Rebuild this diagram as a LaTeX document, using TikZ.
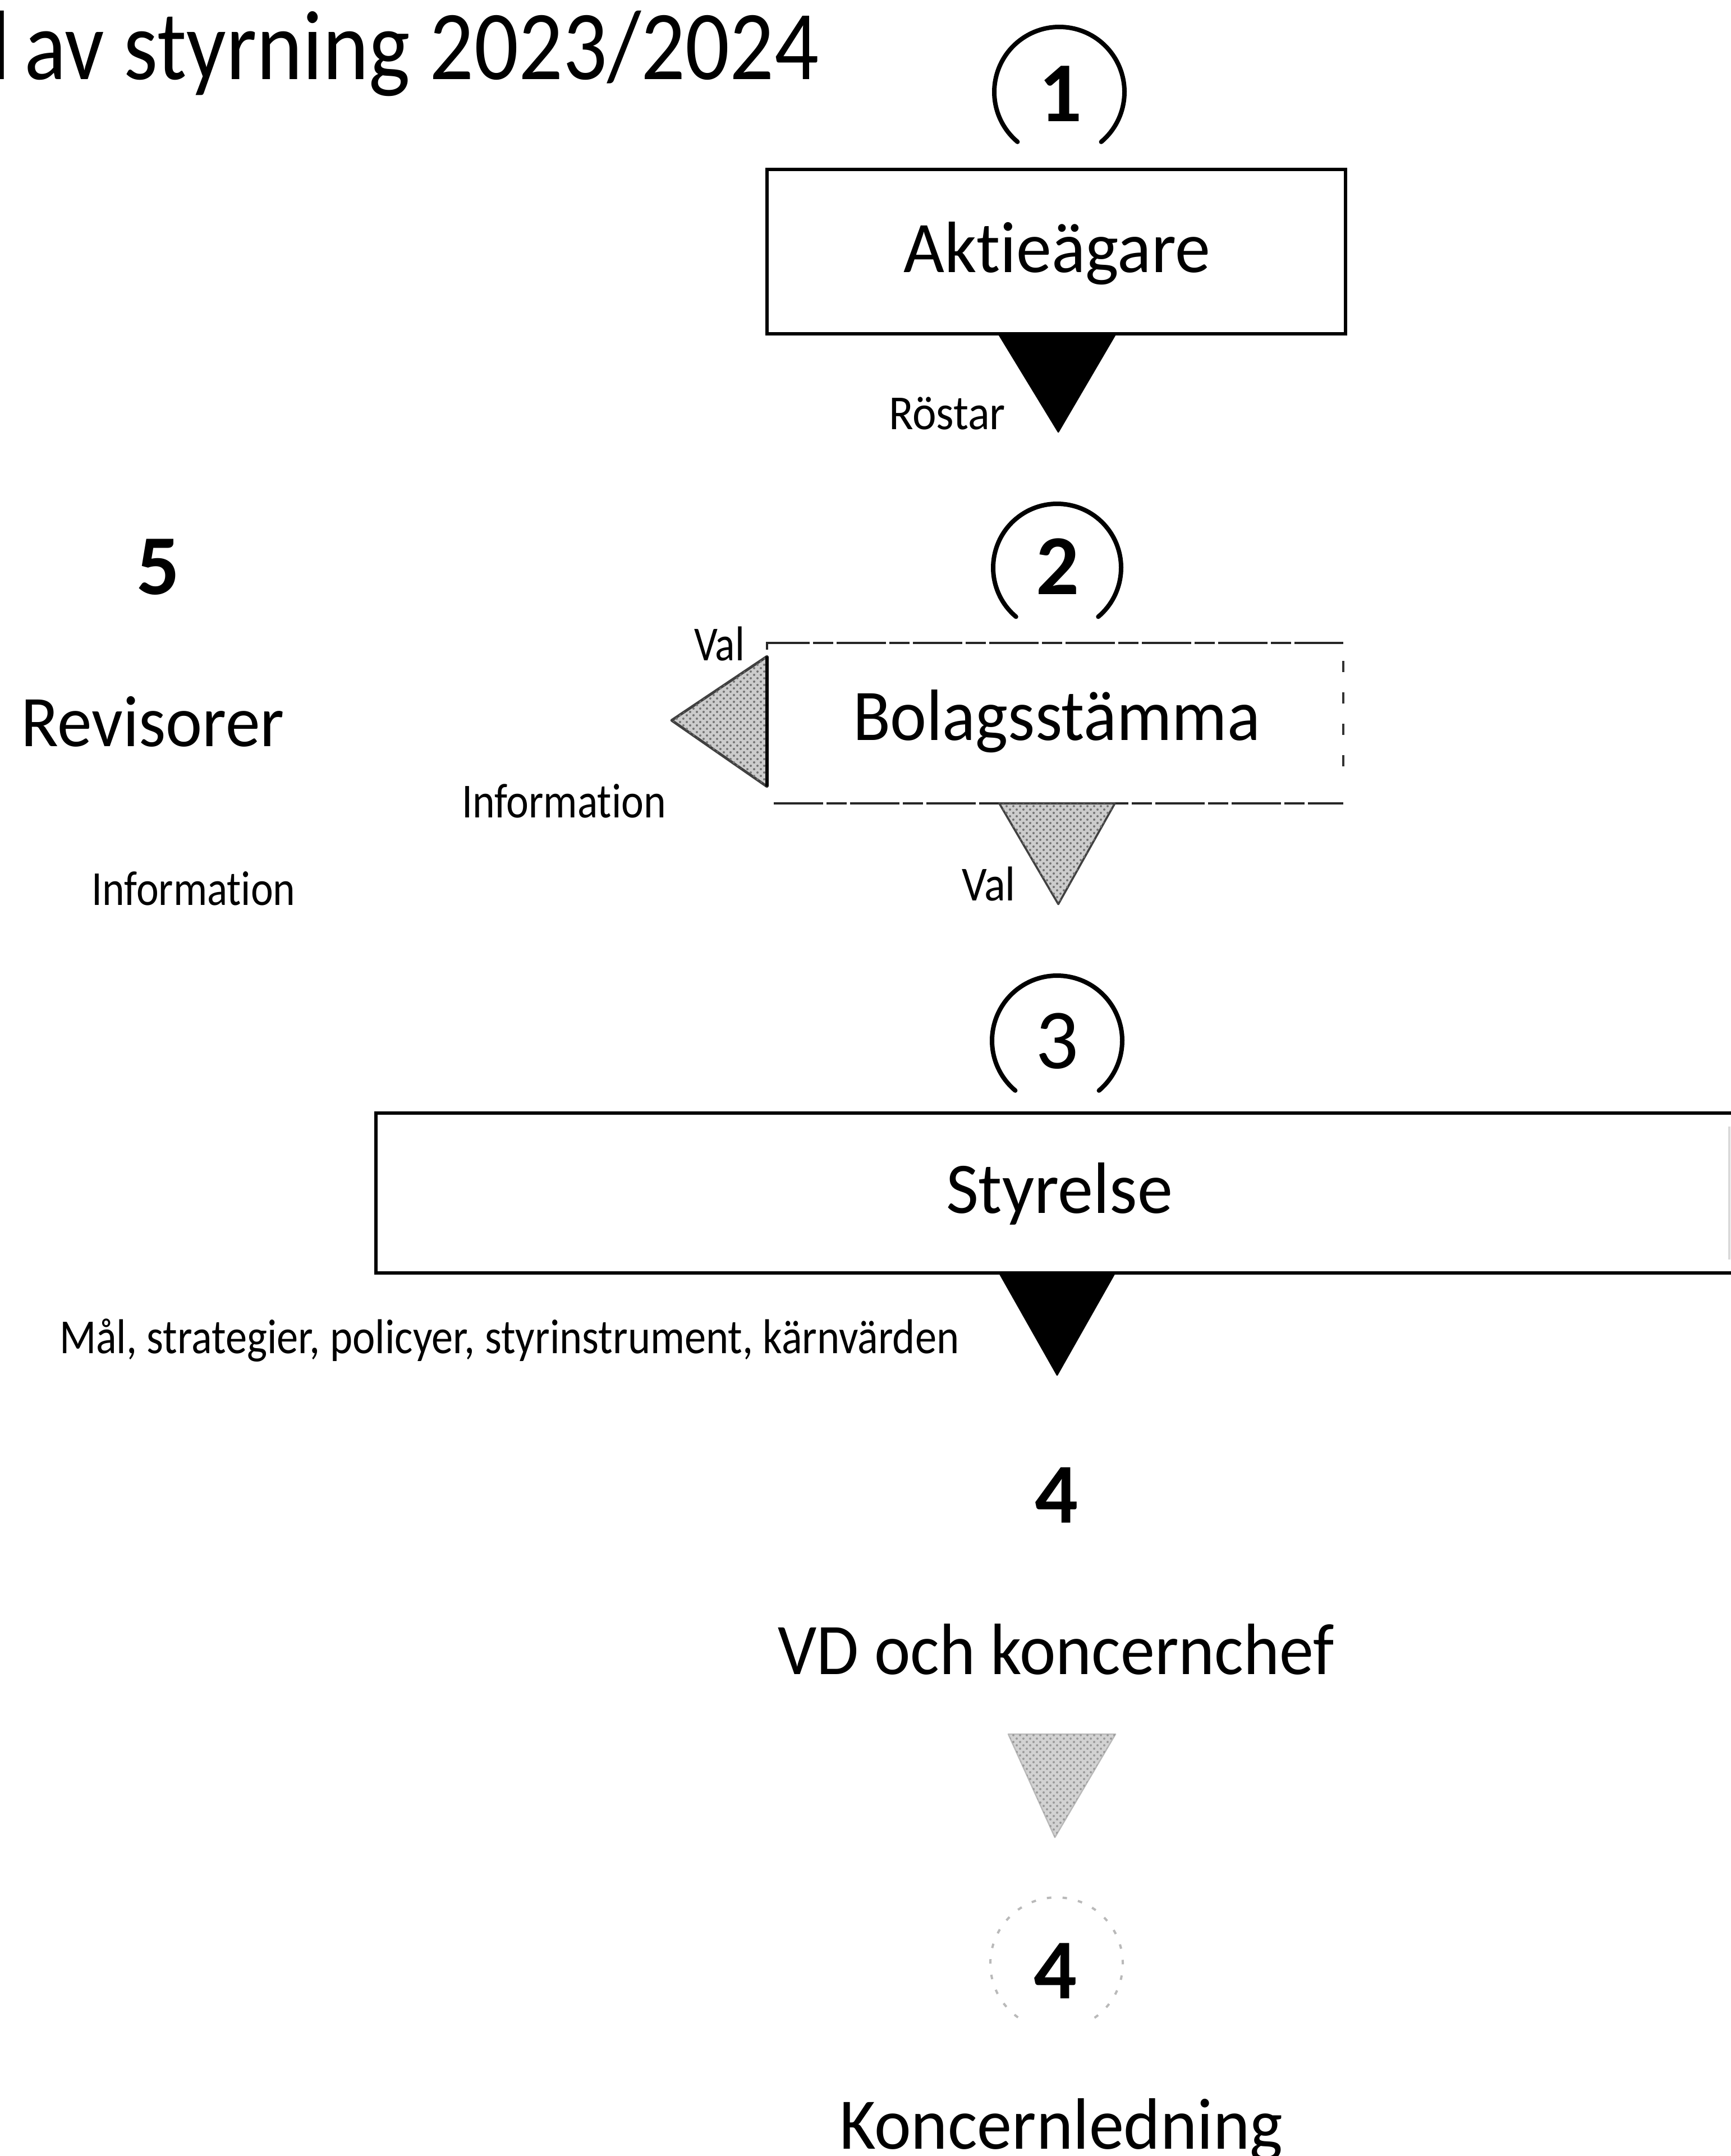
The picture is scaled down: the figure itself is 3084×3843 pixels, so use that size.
\documentclass[tikz,border=0pt]{standalone}
\usepackage{fontspec}
\setmainfont{Carlito}[Ligatures={NoCommon,NoContextual}]
\usepackage{graphicx}
\usetikzlibrary{calc,patterns}
\newdimen\pxu \pxu=0.25pt
\newcommand\fw[2]{\resizebox{#1\pxu}{\height}{#2}}
\newcommand\fbig{\fontsize{32.4pt}{38pt}\selectfont}
\newcommand\fsmall{\fontsize{21.8pt}{26pt}\selectfont}
\newcommand\fdig{\fontsize{38pt}{44pt}\selectfont}
\newcommand\ftitle{\fontsize{44pt}{52pt}\selectfont}
\tikzset{
  every node/.style={inner sep=0pt, outer sep=0pt},
  lbl/.style={anchor=base},
  boxshape/.style={rectangle, minimum width=#1},
  ring/.style={line width=2pt, line cap=round},
  faintring/.style={line width=1pt, gray!55, dash pattern=on 2pt off 5pt},
  blacktri/.style={fill=black, draw=black, line width=0.6pt, line join=round},
  graytri/.style={fill=gray!40, draw=black!75, line width=1.2pt, line join=round},
  lighttri/.style={fill=gray!35, draw=gray!55, line width=0.6pt, line join=round},
  stipple/.style={pattern=crosshatch dots, pattern color=black!55},
  solidedge/.style={line width=1.6pt, black},
  dashedge/.style={line width=1.1pt, black!85, dash pattern=on 22pt off 1.5pt on 9pt off 1.5pt},
  sparseedge/.style={line width=1.2pt, black!80, dash pattern=on 5pt off 9pt},
}
\begin{document}
\begin{tikzpicture}[x=0.25pt,y=-0.25pt]
\useasboundingbox (0,0) rectangle (3084,3843);
\fill[white] (0,0) rectangle (3084,3843);

% title
\node[lbl] (tl) at (0,142) {\ftitle l};
\node[lbl, anchor=base west] (title) at (43,142) {\ftitle\fw{1416}{av styrning 2023/2024}};

% circle 1 + Aktieägare
\coordinate (c1) at (1888,164);
\draw[ring] ($(c1)+(-50:29pt)$) arc[start angle=-50,end angle=230,radius=29pt];
\node[lbl] (n1) at (1890,217) {\fdig\bfseries 1};
\node[boxshape=257.75pt, minimum height=73.25pt, draw, line width=1.5pt] (akt) at (1882.5,448.5) {};
\node[lbl] (tAkt) at (1884,485) {\fbig\fw{546}{Aktieägare}};
\coordinate (t1a) at ($(akt.south)+(-25.75pt,0)$);
\coordinate (t1b) at ($(akt.south)+(26.5pt,0)$);
\coordinate (t1c) at ($(akt.south)+(0.9pt,-43.75pt)$);
\draw[blacktri] (t1a) -- (t1b) -- (t1c) -- cycle;
\node[lbl] (tRost) at (1688,765) {\fsmall\fw{208}{Röstar}};

% circle 2 + Bolagsstämma
\coordinate (c2) at (1884,1012);
\draw[ring] ($(c2)+(-50:28.5pt)$) arc[start angle=-50,end angle=230,radius=28.5pt];
\node[lbl] (n2) at (1885,1059) {\fdig\bfseries 2};
\node[lbl] (n5) at (282,1059) {\fdig\bfseries 5};
\node[boxshape=256.75pt, minimum height=71.5pt] (bol) at (1880.5,1289) {};
\draw[dashedge] ($(bol.north west)+(0,-3pt)$) -- (bol.north west) -- (bol.north east);
\draw[dashedge] ($(bol.south west)+(3pt,0)$) -- (bol.south east);
\draw[sparseedge] ($(bol.north east)+(0,-8pt)$) -- ($(bol.south east)+(0,14pt)$);
\node[lbl] (tBol) at (1883,1319) {\fbig\fw{726}{Bolagsstämma}};
\coordinate (t2a) at ($(bol.west)+(0,29.75pt)$);
\coordinate (t2b) at ($(bol.west)+(0,-28.25pt)$);
\coordinate (t2c) at ($(bol.west)+(-42.5pt,1.25pt)$);
\draw[graytri] (t2a) -- (t2b) -- (t2c) -- cycle;
\fill[stipple] (t2a) -- (t2b) -- (t2c) -- cycle;
\draw[solidedge] (t2a) -- (t2b);
\node[lbl] (tVal1) at (1282,1177) {\fsmall\fw{90}{Val}};
\node[lbl] (tRev) at (272,1330) {\fbig\fw{469}{Revisorer}};
\node[lbl] (tInf1) at (1005,1457) {\fsmall\fw{364}{Information}};
\node[lbl] (tInf2) at (345,1613) {\fsmall\fw{363}{Information}};
\coordinate (t3a) at ($(bol.south)+(-24.9pt,0)$);
\coordinate (t3b) at ($(bol.south)+(26.6pt,0)$);
\coordinate (t3c) at ($(bol.south)+(1.4pt,-44.9pt)$);
\draw[graytri, line width=0.9pt] (t3a) -- (t3b) -- (t3c) -- cycle;
\fill[stipple] (t3a) -- (t3b) -- (t3c) -- cycle;
\node[lbl] (tVal2) at (1762,1605) {\fsmall\fw{96}{Val}};

% circle 3 + Styrelse
\coordinate (c3) at (1884,1855);
\draw[ring] ($(c3)+(-50:29pt)$) arc[start angle=-50,end angle=230,radius=29pt];
\node[lbl] (n3) at (1884,1904) {\fdig 3};
\node[boxshape=603pt, minimum height=71.25pt] (sty) at (1876,2126.5) {};
\draw[solidedge, line cap=rect] (sty.north east) -- (sty.north west) -- (sty.south west) -- (sty.south east);
\draw[line width=0.8pt, gray!30] ($(sty.north east)+(0,-6pt)$) -- ($(sty.south east)+(0,6pt)$);
\node[lbl] (tSty) at (1888,2162) {\fbig\fw{404}{Styrelse}};
\coordinate (t4a) at ($(sty.south)+(-23.75pt,0)$);
\coordinate (t4b) at ($(sty.south)+(27.75pt,0)$);
\coordinate (t4c) at ($(sty.south)+(2pt,-45.5pt)$);
\draw[blacktri] (t4a) -- (t4b) -- (t4c) -- cycle;
\node[lbl, anchor=base west] (tMal) at (106,2412) {\fsmall\fw{1603}{Mål, strategier, policyer, styrinstrument, kärnvärden}};

% 4 + VD och koncernchef
\node[lbl] (n4a) at (1883,2714) {\fdig\bfseries 4};
\node[lbl] (tVD) at (1882,2984) {\fbig\fw{991}{VD och koncernchef}};
\coordinate (t5a) at ($(tVD.base)+(-21.25pt,-26.75pt)$);
\coordinate (t5b) at ($(tVD.base)+(26.5pt,-26.75pt)$);
\coordinate (t5c) at ($(tVD.base)+(-0.5pt,-72.75pt)$);
\draw[lighttri] (t5a) -- (t5b) -- (t5c) -- cycle;
\fill[stipple, pattern color=black!40] (t5a) -- (t5b) -- (t5c) -- cycle;

% faint circle 4 + Koncernledning
\coordinate (c4) at (1883,3500);
\draw[faintring] ($(c4)+(-55:29.5pt)$) arc[start angle=-55,end angle=235,radius=29.5pt];
\node[lbl] (n4b) at (1881,3562) {\fdig\bfseries 4};
\node[lbl] (tKon) at (1891,3830) {\fbig\fw{790}{Koncernledning}};
\end{tikzpicture}
\end{document}
